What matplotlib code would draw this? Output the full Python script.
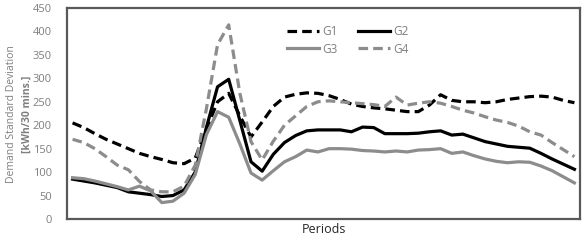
import matplotlib
matplotlib.use("Agg")
import matplotlib.pyplot as plt
import numpy as np

plt.rcParams['font.family'] = ['Open Sans', 'DejaVu Sans']

series_names = ["G1", "G2", "G3", "G4"]
g1 = [205, 195, 182, 170, 160, 150, 140, 133, 127, 120, 118, 130, 192, 250, 268, 220, 175,
      207, 240, 260, 266, 269, 268, 263, 255, 245, 240, 237, 235, 232, 229, 229, 243, 265,
      253, 250, 250, 248, 250, 255, 258, 261, 262, 260, 253, 248]
g2 = [85, 81, 77, 72, 67, 58, 55, 52, 48, 50, 62, 100, 195, 282, 298, 210, 122,
      102, 138, 163, 178, 188, 190, 190, 190, 186, 196, 195, 182, 182, 182, 183, 186, 188,
      179, 181, 173, 165, 160, 155, 153, 151, 140, 128, 117, 106]
g3 = [88, 86, 81, 75, 69, 62, 70, 60, 35, 38, 55, 95, 180, 229, 217, 160, 98,
      83, 103, 122, 133, 147, 143, 150, 150, 149, 146, 145, 143, 145, 143, 147, 148, 150,
      140, 143, 135, 128, 123, 120, 122, 121, 113, 103, 90, 77]
g4 = [170, 163, 150, 133, 115, 105, 80, 62, 58, 58, 70, 115, 235, 372, 414, 268, 165,
      126, 166, 200, 220, 240, 250, 252, 250, 248, 246, 244, 240, 260, 243, 247, 250, 247,
      240, 232, 226, 218, 211, 206, 198, 186, 179, 163, 148, 133]
y_ticks = [0, 50, 100, 150, 200, 250, 300, 350, 400, 450]

fig = plt.figure(figsize=(5.85, 2.41), dpi=100)
ax = fig.add_axes([67/585, 1-219/241, (580-67)/585, (219-8)/241])

x = np.arange(len(g1))
gray = "#8c8c8c"
lw = 2.3
h1, = ax.plot(x, g1, color="black", lw=lw, ls=(0, (3, 1.6)), label="G1")
h2, = ax.plot(x, g2, color="black", lw=lw, label="G2")
h3, = ax.plot(x, g3, color=gray, lw=lw, label="G3")
h4, = ax.plot(x, g4, color=gray, lw=lw, ls=(0, (3, 1.6)), label="G4")

ax.set_xlim(-0.5, len(g1) - 0.5)
ax.set_ylim(0, 450)
ax.set_yticks(y_ticks)
ax.set_yticklabels([str(t) for t in y_ticks], color="#7f7f7f", fontsize=8)
ax.set_xticks([])
ax.tick_params(axis='y', length=0, pad=11)
for s in ax.spines.values():
    s.set_color("#595959")
    s.set_linewidth(1.6)

ax.set_xlabel("Periods", fontsize=9, color="#262626", labelpad=3)

fig.text(12/585, 1-114/241, "Demand Standard Deviation", rotation=90, ha="center", va="center",
         fontsize=7.5, color="#7f7f7f")
fig.text(27/585, 1-114/241, "[kWh/30 mins.]", rotation=90, ha="center", va="center",
         fontsize=7.5, color="#7f7f7f", fontweight="bold")

leg = ax.legend([h1, h3, h2, h4], ["G1", "G3", "G2", "G4"], ncol=2, loc="upper left",
                bbox_to_anchor=(0.42, 0.94), frameon=False,
                fontsize=8.5, handlelength=2.7, handletextpad=0.3, columnspacing=1.7,
                labelspacing=0.35, borderaxespad=0)
for t in leg.get_texts():
    t.set_color("#7f7f7f")

fig.savefig("out.png", dpi=100)
